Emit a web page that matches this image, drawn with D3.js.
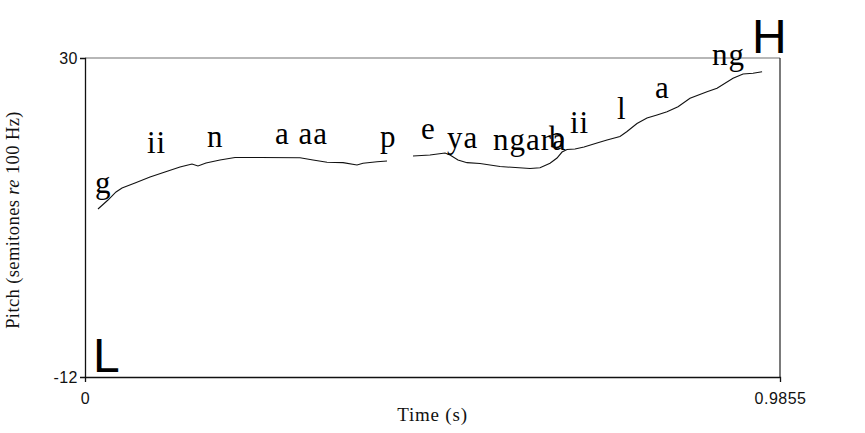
<!DOCTYPE html>
<html><head><meta charset="utf-8">
<script src="https://cdn.jsdelivr.net/npm/d3@7"></script>
<style>html,body{margin:0;padding:0;background:#fff;}svg{display:block;}</style>
</head><body>
<svg id="chart" width="865" height="433"></svg>
<script>
// ---- data ----
const xDomain = [0, 0.9855];
const yDomain = [-12, 30];
const xTickValues = [0, 0.9855];
const xTickLabels = ["0", "0.9855"];
const yTickValues = [-12, 30];
const yTickLabels = ["-12", "30"];

// pitch contour, segment 1 (time s, semitones re 100 Hz)
const seg1Time  = [0.0184,0.0326,0.0440,0.0525,0.0709,0.0922,0.1134,0.1347,0.1517,0.1602,0.1716,0.1914,0.2127,0.2482,0.3049,0.3233,0.3432,0.3659,0.3857,0.3942,0.4141,0.4283];
const seg1Pitch = [10.12,11.30,12.36,12.88,13.54,14.33,14.99,15.65,16.04,15.78,16.18,16.57,16.90,16.90,16.87,16.57,16.27,16.22,15.91,16.14,16.35,16.44];
// pitch contour, segment 2
const seg2Time  = [0.4651,0.4892,0.5105,0.5176,0.5289,0.5417,0.5601,0.5885,0.6310,0.6452,0.6594,0.6693,0.6764,0.6835,0.6948,0.7076,0.7260,0.7402,0.7586,0.7686,0.7827,0.7969,0.8111,0.8253,0.8409,0.8579,0.8820,0.8962,0.9189,0.9331,0.9473,0.9601];
const seg2Pitch = [17.10,17.23,17.49,17.23,16.57,16.22,16.11,15.71,15.45,15.56,16.14,16.83,17.62,17.95,18.02,18.28,18.81,19.20,19.66,20.32,21.38,22.10,22.50,22.93,23.59,24.69,25.56,26.01,27.33,27.89,27.99,28.20];

// segment labels
const labelText  = ["g","ii","n","a aa","p","e","ya","ngara","b","ii","l","a","ng"];
const labelTime  = [0.0142,0.0879,0.1730,0.2694,0.4183,0.4764,0.5133,0.5785,0.6579,0.6877,0.7544,0.8082,0.8891];
const labelPitch = [12.23,17.49,18.28,18.68,18.28,19.34,18.15,17.89,18.15,20.13,21.97,24.73,29.08];

// tone targets
const toneText  = ["H","L"];
const toneTime  = [0.9458, 0.0113];
const tonePitch = [30.66, -11.34];

const xTitle = "Time (s)";

// ---- drawing ----
const svg = d3.select("#chart");
const L = 85, R = 780, T = 58, B = 377;
const x = d3.scaleLinear().domain(xDomain).range([L, R]);
const y = d3.scaleLinear().domain(yDomain).range([B, T]);

// frame
svg.append("line").attr("x1",L).attr("x2",R).attr("y1",T).attr("y2",T).attr("stroke","#707070").attr("stroke-width",1.2);
svg.append("line").attr("x1",R).attr("x2",R).attr("y1",T).attr("y2",B).attr("stroke","#222").attr("stroke-width",1.2);

// axes
const xAxis = d3.axisBottom(x).tickValues(xTickValues).tickFormat((d,i)=>xTickLabels[i]).tickSizeOuter(0).tickSize(5).tickPadding(8);
const yAxis = d3.axisLeft(y).tickValues(yTickValues).tickFormat((d,i)=>yTickLabels[i]).tickSizeOuter(0).tickSize(5).tickPadding(2);
const gx = svg.append("g").attr("transform",`translate(0,${B})`).call(xAxis);
const gy = svg.append("g").attr("transform",`translate(${L},0)`).call(yAxis);
[gx,gy].forEach(g=>{
  g.select(".domain").attr("stroke","#111").attr("stroke-width",1.3);
  g.selectAll(".tick line").attr("stroke","#111");
  g.selectAll(".tick text").attr("font-family","'Liberation Sans', Arial, sans-serif").attr("font-size",16).attr("letter-spacing",0.5).attr("fill","#111");
});
gx.selectAll(".tick text").attr("dy","0.85em");

// axis titles
svg.append("text").attr("x",(L+R)/2).attr("y",421).attr("text-anchor","middle")
  .attr("font-family","'Liberation Serif', 'Times New Roman', serif").attr("font-size",19).attr("letter-spacing",0.8).attr("fill","#111").text(xTitle);
const yt = svg.append("text").attr("transform","translate(19,220) rotate(-90)").attr("text-anchor","middle")
  .attr("font-family","'Liberation Serif', 'Times New Roman', serif").attr("font-size",18.5).attr("letter-spacing",0.4).attr("fill","#111");
yt.append("tspan").text("Pitch (semitones ");
yt.append("tspan").attr("font-style","italic").text("re");
yt.append("tspan").text(" 100 Hz)");

// contour
const line = d3.line().x(d=>x(d[0])).y(d=>y(d[1]));
[[seg1Time,seg1Pitch],[seg2Time,seg2Pitch]].forEach(([ts,ps])=>{
  svg.append("path").datum(ts.map((t,i)=>[t,ps[i]])).attr("d",line)
    .attr("fill","none").attr("stroke","#111").attr("stroke-width",1.1);
});

// labels
svg.selectAll("text.lab").data(labelText).enter().append("text").attr("class","lab")
  .attr("x",(d,i)=>x(labelTime[i])).attr("y",(d,i)=>y(labelPitch[i]))
  .attr("font-family","'Liberation Serif', 'Times New Roman', serif").attr("font-size",31).attr("letter-spacing",1)
  .attr("fill","#000")
  .text(d=>d);

// tones
svg.selectAll("text.tone").data(toneText).enter().append("text").attr("class","tone")
  .attr("x",(d,i)=>x(toneTime[i])).attr("y",(d,i)=>y(tonePitch[i]))
  .attr("font-family","'Liberation Sans', Arial, sans-serif").attr("font-size",48).attr("fill","#000")
  .text(d=>d);
</script>
</body></html>
